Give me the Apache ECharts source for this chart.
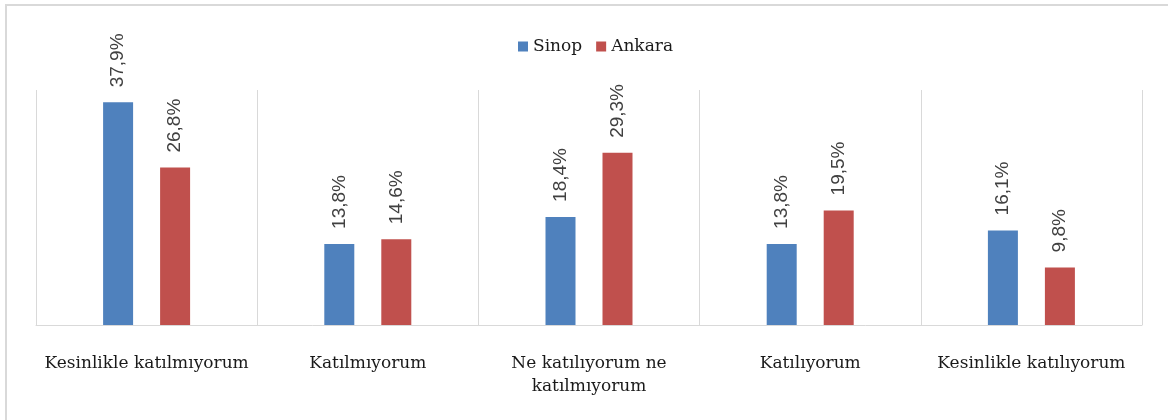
<!DOCTYPE html>
<html>
<head>
<meta charset="utf-8">
<script src="https://cdn.jsdelivr.net/npm/echarts@6/dist/echarts.min.js"></script>
<style>
  html, body { margin: 0; padding: 0; background: #fff; }
  #chart { width: 1168px; height: 420px; }
</style>
</head>
<body>
<div id="chart"></div>
<script>
// kategoriler ve değerler (%)
var categories = ['Kesinlikle katılmıyorum', 'Katılmıyorum', 'Ne katılıyorum ne\nkatılmıyorum', 'Katılıyorum', 'Kesinlikle katılıyorum'];
var sinop = [37.9, 13.8, 18.4, 13.8, 16.1];
var ankara = [26.8, 14.6, 29.3, 19.5, 9.8];

var chart = echarts.init(document.getElementById('chart'));

var valueLabel = {
  show: true,
  position: 'top',
  rotate: 90,
  align: 'left',
  verticalAlign: 'middle',
  distance: 15,
  color: '#404040',
  fontFamily: 'Liberation Sans',
  fontSize: 19,
  formatter: function (p) {
    return p.value.toFixed(1).replace('.', ',') + '%';
  }
};

chart.setOption({
  animation: false,
  graphic: [{
    type: 'rect',
    shape: { x: 6, y: 5, width: 1300, height: 600 },
    style: { fill: 'none', stroke: '#d9d9d9', lineWidth: 2 },
    silent: true
  }],
  legend: {
    left: 513,
    top: 33,
    icon: 'rect',
    itemWidth: 10,
    itemHeight: 10,
    itemGap: 14,
    textStyle: { fontFamily: 'DejaVu Serif', fontSize: 17, color: '#1a1a1a' },
    data: ['Sinop', 'Ankara']
  },
  grid: { left: 36, right: 26, top: 90, bottom: 95 },
  xAxis: {
    type: 'category',
    data: categories,
    axisLine: { lineStyle: { color: '#d9d9d9', width: 1 } },
    axisTick: { show: false },
    splitLine: { show: true, lineStyle: { color: '#d9d9d9', width: 1 } },
    axisLabel: {
      interval: 0,
      margin: 27,
      fontFamily: 'DejaVu Serif',
      fontSize: 17,
      lineHeight: 23,
      color: '#1a1a1a'
    }
  },
  yAxis: {
    type: 'value',
    min: 0,
    max: 40,
    show: false,
    splitLine: { show: false }
  },
  series: [{
    name: 'Sinop',
    type: 'bar',
    data: sinop,
    barWidth: 30,
    barGap: '90%',
    itemStyle: { color: '#4f81bd' },
    label: valueLabel
  }, {
    name: 'Ankara',
    type: 'bar',
    data: ankara,
    barWidth: 30,
    itemStyle: { color: '#c0504d' },
    label: valueLabel
  }]
});
</script>
</body>
</html>
